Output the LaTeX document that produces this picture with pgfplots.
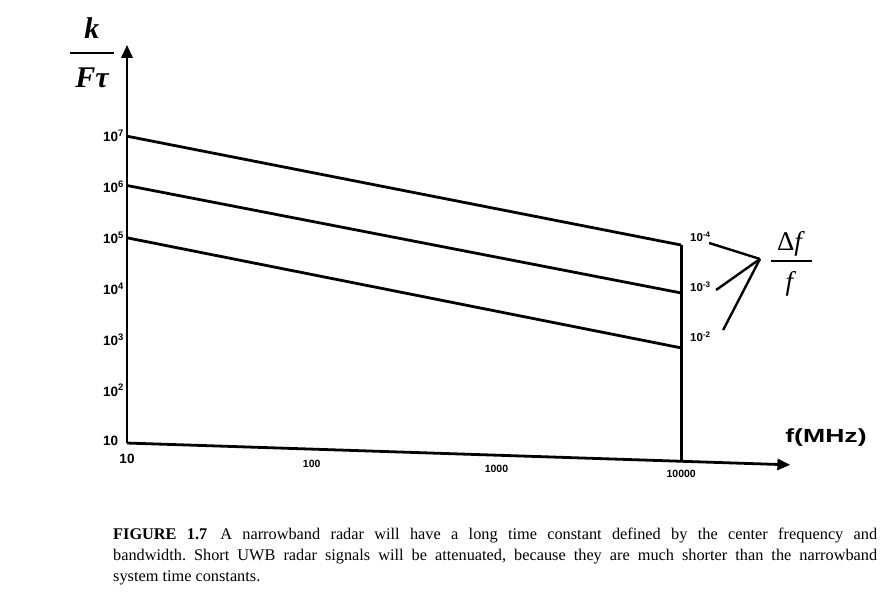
\documentclass[border=0pt]{standalone}
\usepackage{fontspec}
\setmainfont{Liberation Serif}
\setsansfont{Liberation Sans}
\usepackage{pgfplots}
\pgfplotsset{compat=1.18}
\usetikzlibrary{arrows.meta}
\newcommand{\tl}{\fontsize{13.5}{14}\selectfont\sffamily\bfseries}
\newcommand{\ts}{\fontsize{10.5}{12}\selectfont\sffamily\bfseries}
\begin{document}
\frenchspacing
\begin{tikzpicture}
\begin{axis}[
  xmode=log, ymode=log, log basis x=10, log basis y=10,
  scale only axis, width=665pt, height=431.8pt,
  xmin=10, xmax=39810.7, ymin=3.1623, ymax=1e9,
  axis lines=left, axis line style={draw=none},
  major tick length=0pt, minor tick num=0,
  clip=false,
  xtick={10,100,1000,10000},
  xticklabels={{\raisebox{3.7pt}[0pt][0pt]{\tl 10}},{\raisebox{-0.8pt}[0pt][0pt]{\ts 100}},{\raisebox{-5.8pt}[0pt][0pt]{\ts 1000}},{\raisebox{-10.8pt}[0pt][0pt]{\ts 10000}}},
  xticklabel style={anchor=north, inner sep=0pt},
  ytick={10,100,1000,10000,100000,1000000,10000000},
  yticklabels={10,10\textsuperscript{2},10\textsuperscript{3},10\textsuperscript{4},10\textsuperscript{5},10\textsuperscript{6},10\textsuperscript{7}},
  yticklabel style={anchor=west, xshift=-24pt, inner sep=0pt, font=\tl},
]
% lines k/(F tau) for Delta f / f = 1e-4, 1e-3, 1e-2
\addplot[black, line width=2.8pt] coordinates {(10,1e7) (10000,72000)};
\addplot[black, line width=2.8pt] coordinates {(10,1.07e6) (10000,8200)};
\addplot[black, line width=2.8pt] coordinates {(10,1e5) (10000,680)};
% vertical line at 10000 MHz
\addplot[black, line width=2.8pt] coordinates {(10000,72000) (10000,4.07)};
% axes drawn as lines
\addplot[black, line width=2.8pt, -{Triangle[length=13pt,width=11pt]}] coordinates {(10,9.12) (10,6.3e8)};
\addplot[black, line width=2.8pt, -{Triangle[length=13pt,width=11pt]}] coordinates {(10,9.12) (39000,3.39)};
% leader lines to Delta f / f
\addplot[black, line width=2.4pt] coordinates {(14160,79100) (26700,38300)};
\addplot[black, line width=2.4pt] coordinates {(15450,9380) (26700,38300)};
\addplot[black, line width=2.4pt] coordinates {(16870,1530) (26700,38300)};
\end{axis}
% annotations (pixel -> (px-127, 466.4-py))
\node[anchor=west, inner sep=0pt, font=\fontsize{11.5}{12}\selectfont\sffamily\bfseries] at (563pt,229.4pt) {10\textsuperscript{-4}};
\node[anchor=west, inner sep=0pt, font=\fontsize{11.5}{12}\selectfont\sffamily\bfseries] at (563pt,179.4pt) {10\textsuperscript{-3}};
\node[anchor=west, inner sep=0pt, font=\fontsize{11.5}{12}\selectfont\sffamily\bfseries] at (563pt,129.4pt) {10\textsuperscript{-2}};
% Delta f / f
\node[inner sep=0pt, font=\fontsize{27}{28}\selectfont] at (664pt,223pt) {Δ\textit{f}};
\node[inner sep=0pt] at (664pt,205.4pt) {\rule{41pt}{2.4pt}};
\node[inner sep=0pt, font=\fontsize{27}{28}\selectfont] at (664pt,183pt) {\textit{f}};
% k / (F tau)
\node[inner sep=0pt, font=\fontsize{30}{30}\selectfont\bfseries\itshape] at (-35pt,438.4pt) {k};
\node[inner sep=0pt] at (-35pt,413.4pt) {\rule{44pt}{2.4pt}};
\node[inner sep=0pt, font=\fontsize{30}{30}\selectfont\bfseries\itshape] at (-35pt,388.4pt) {Fτ};
% x axis title
\node[inner sep=0pt, font=\fontsize{19}{20}\selectfont\sffamily\bfseries] at (699pt,28.4pt) {\scalebox{1.4}[1]{f(MHz)}};
% caption
\node[anchor=north west, inner sep=0pt, text width=764pt, align=justify, font=\fontsize{16.3}{21}\selectfont] at (-14pt,-61.6pt)
{\textbf{FIGURE 1.7}\hspace{0.8em}A narrowband radar will have a long time constant defined by the center frequency and\linebreak bandwidth. Short UWB radar signals will be attenuated, because they are much shorter than the narrowband\linebreak system time constants.};
\pgfresetboundingbox
\path (-127pt,-140.6pt) rectangle (769pt,466.4pt);
\end{tikzpicture}
\end{document}
